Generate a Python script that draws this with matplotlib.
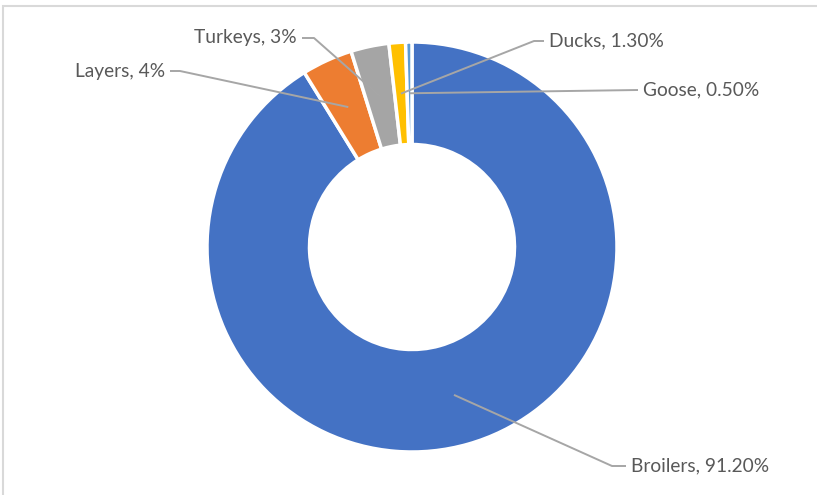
import numpy as np
import matplotlib.pyplot as plt
from matplotlib.patches import Rectangle

# poultry shares, clockwise from 12 o'clock
categories = ["Broilers", "Layers", "Turkeys", "Ducks", "Goose"]
shares = [91.2, 4, 3, 1.3, 0.5]
share_labels = ["91.20%", "4%", "3%", "1.30%", "0.50%"]
colors = ["#4472C4", "#ED7D31", "#A5A5A5", "#FFC000", "#5B9BD5"]

W, H = 817, 495
fig = plt.figure(figsize=(W / 100, H / 100), dpi=100)
ax = fig.add_axes([0, 0, 1, 1])

# light chart-area border
fig.patches.append(Rectangle((3.5 / W, -0.1), 1.2, (H - 6.5) / H + 0.1, transform=fig.transFigure,
                             fill=False, edgecolor="#D9D9D9", linewidth=1.5))

cx, cy, R = 412, H - 247, 205
ring = 0.5
wedges, _ = ax.pie(shares, colors=colors, startangle=90, counterclock=False, center=(cx, cy),
                   radius=R, wedgeprops=dict(width=R * ring, edgecolor="white", linewidth=2.5),
                   frame=True)
ax.set_xlim(0, W)
ax.set_ylim(0, H)
ax.set_aspect("equal")
ax.axis("off")

# label text positions (pixels from top) and which side the leader attaches to
label_pos = {
    "Broilers": (631, 466, "left", 14),
    "Layers": (165, 71, "right", 10),
    "Turkeys": (297, 38, "right", 12),
    "Ducks": (549, 41, "left", 10),
    "Goose": (643, 90, "left", 0),
}

line_color = "#A6A6A6"
r_mid = R * (1 - ring / 2)
for w, name, lab in zip(wedges, categories, share_labels):
    ang = np.deg2rad((w.theta1 + w.theta2) / 2)
    ax_pt = (cx + r_mid * np.cos(ang), cy + r_mid * np.sin(ang))
    tx, ty, side, elbow = label_pos[name]
    ty = H - ty
    if side == "left":
        x0 = tx - 5
        xs = [x0, x0 - elbow, ax_pt[0]]
    else:
        x0 = tx + 5
        xs = [x0, x0 + elbow, ax_pt[0]]
    ys = [ty, ty, ax_pt[1]]
    ax.plot(xs, ys, color=line_color, linewidth=1.4, solid_capstyle="butt", zorder=3)
    ax.text(tx, ty, f"{name}, {lab}", ha=side, va="center", fontsize=13.8,
            family="Lato", color="#595959", zorder=4)

fig.savefig("out.png", dpi=100)
